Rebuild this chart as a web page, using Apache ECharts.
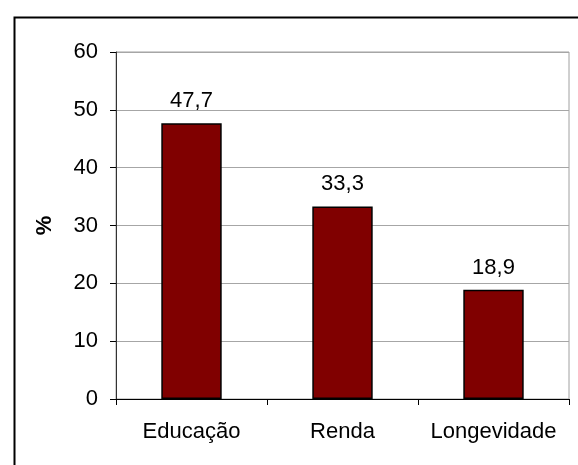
<!DOCTYPE html>
<html>
<head>
<meta charset="utf-8">
<script src="https://cdn.jsdelivr.net/npm/echarts@6/dist/echarts.min.js"></script>
<style>html,body{margin:0;padding:0;background:#fff}#c{width:578px;height:465px}</style>
</head>
<body>
<div id="c"></div>
<script>
const categories = ["Educação", "Renda", "Longevidade"];
const values = [47.7, 33.3, 18.9];
const yTicks = [0, 10, 20, 30, 40, 50, 60];
const yName = "%";

const chart = echarts.init(document.getElementById('c'), null, {renderer: 'canvas'});
const font = 'Liberation Sans, Arial, sans-serif';
chart.setOption({
  animation: false,
  backgroundColor: '#fff',
  graphic: [{
    type: 'rect', left: 12, top: 15, z: -10,
    shape: {x: 0, y: 0, width: 620, height: 500},
    style: {fill: 'none', stroke: '#000', lineWidth: 2}
  }],
  grid: {left: 116, right: 9, top: 52, bottom: 66, show: true, borderColor: '#a0a0a0', borderWidth: 1, backgroundColor: 'transparent'},
  xAxis: {
    type: 'category', data: categories,
    axisLine: {lineStyle: {color: '#000', width: 1}},
    axisTick: {show: true, length: 6, alignWithLabel: false, lineStyle: {color: '#000'}},
    axisLabel: {interval: 0, hideOverlap: false, fontFamily: font, fontSize: 22, color: '#000', margin: 22}
  },
  yAxis: {
    type: 'value', min: yTicks[0], max: yTicks[yTicks.length - 1], interval: 10,
    name: yName, nameLocation: 'middle', nameGap: 60, nameRotate: 90,
    nameTextStyle: {fontFamily: font, fontSize: 22, fontWeight: 'bold', color: '#000'},
    axisLine: {show: true, lineStyle: {color: '#333', width: 1}},
    axisTick: {show: true, length: 6, lineStyle: {color: '#000'}},
    axisLabel: {fontFamily: font, fontSize: 22, color: '#000', margin: 18},
    splitLine: {show: true, lineStyle: {color: '#a6a6a6', width: 1}}
  },
  series: [{
    type: 'bar', data: values, barWidth: '40%',
    itemStyle: {color: '#800000', borderColor: '#000', borderWidth: 1.5},
    label: {show: true, position: 'top', distance: 11, fontFamily: font, fontSize: 22, color: '#000',
      formatter: p => String(p.value).replace('.', ',')}
  }]
});
</script>
</body>
</html>
